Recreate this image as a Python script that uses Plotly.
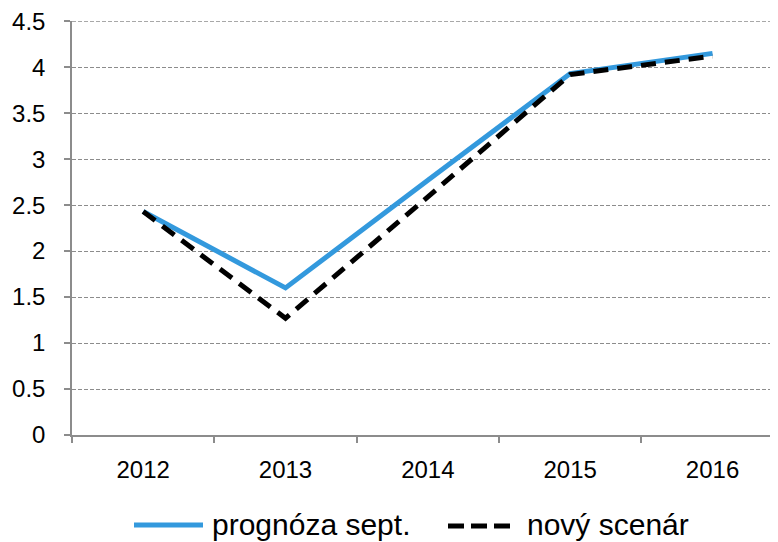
import plotly.graph_objects as go

years = ["2012", "2013", "2014", "2015", "2016"]
prognoza = [2.43, 1.60, 2.77, 3.93, 4.15]
novy = [2.43, 1.27, 2.59, 3.92, 4.12]
y_ticks = [0, 0.5, 1, 1.5, 2, 2.5, 3, 3.5, 4, 4.5]
y_tick_text = ["0", "0.5", "1", "1.5", "2", "2.5", "3", "3.5", "4", "4.5"]
legend_names = ["prognóza sept.", "nový scenár"]

BLUE = "#3399dd"
GRID = "#8c8c8c"
FONT = "Liberation Sans, Arial, sans-serif"
GRID_DASH = "4px,2px"

fig = go.Figure()
fig.add_trace(go.Scatter(x=years, y=prognoza, mode="lines", name=legend_names[0],
                         line=dict(color=BLUE, width=5), showlegend=False))
fig.add_trace(go.Scatter(x=years, y=novy, mode="lines", name=legend_names[1],
                         line=dict(color="black", width=5, dash="15px,9px"), showlegend=False))

OFF = 8  # page body margin
W, H = 778 - OFF, 542 - OFF
L, R, T, B = 72 - OFF, 0, 21 - OFF, 107
pw, ph = W - L - R, H - T - B

def px(x):
    return (x - OFF - L) / pw

def py(y):
    return (H - B - (y - OFF)) / ph

# top gridline (plotly skips grid at the axis end)
fig.add_shape(type="line", xref="paper", yref="y", x0=0, x1=1, y0=y_ticks[-1], y1=y_ticks[-1],
              line=dict(color=GRID, width=1.2, dash=GRID_DASH), layer="below")

# custom legend
fig.add_shape(type="line", xref="paper", yref="paper", x0=px(134), x1=px(203), y0=py(525), y1=py(525),
              line=dict(color=BLUE, width=5))
fig.add_shape(type="line", xref="paper", yref="paper", x0=px(448), x1=px(511), y0=py(526), y1=py(526),
              line=dict(color="black", width=5, dash="16px,7px"))
fig.add_annotation(xref="paper", yref="paper", x=px(210), y=py(524), text=legend_names[0],
                   showarrow=False, xanchor="left", yanchor="middle",
                   font=dict(family=FONT, size=30, color="black"))
fig.add_annotation(xref="paper", yref="paper", x=px(525), y=py(524), text=legend_names[1],
                   showarrow=False, xanchor="left", yanchor="middle",
                   font=dict(family=FONT, size=30, color="black"))

fig.update_layout(
    width=W, height=H,
    margin=dict(l=L, r=R, t=T, b=B, pad=0, autoexpand=False),
    plot_bgcolor="white", paper_bgcolor="white",
    font=dict(family=FONT, size=24, color="black"),
    showlegend=False,
)
fig.update_xaxes(
    type="category", range=[-0.5, 4.46], automargin=False,
    showline=True, linecolor=GRID, linewidth=1.5,
    ticks="outside", ticklen=6, tickcolor=GRID, tickwidth=1.5,
    tickson="boundaries", showgrid=False, ticklabelstandoff=12,
    tickfont=dict(size=24),
)
fig.update_yaxes(
    range=[0, 4.502], tickvals=y_ticks, ticktext=y_tick_text, automargin=False,
    showline=True, linecolor=GRID, linewidth=1.5,
    ticks="outside", ticklen=6, tickcolor=GRID, tickwidth=1.5,
    showgrid=True, gridcolor=GRID, gridwidth=1.2, griddash=GRID_DASH,
    zeroline=False, ticklabelstandoff=14, ticklabeloverflow="allow",
    tickfont=dict(size=24),
)

fig.write_html("out.html")
